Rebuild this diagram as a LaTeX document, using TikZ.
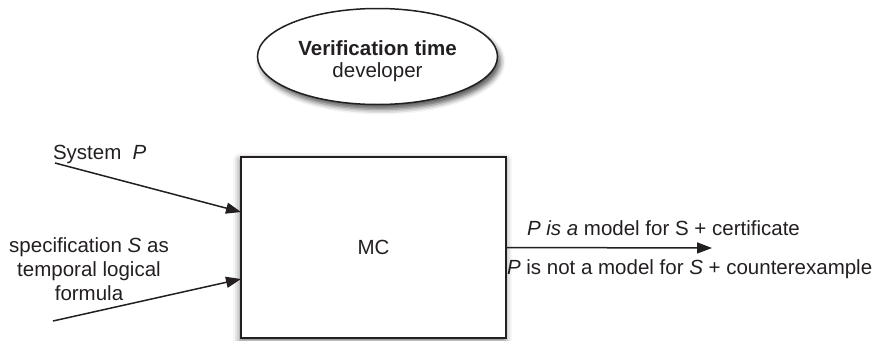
\documentclass[tikz,border=0pt]{standalone}
\usepackage{fontspec}
\setmainfont{Liberation Sans}
\usetikzlibrary{shapes.geometric,arrows.meta,shadows.blur,calc}
\definecolor{ink}{HTML}{231F20}
\tikzset{
  label text/.style={font=\fontsize{20.5pt}{24pt}\selectfont, text=ink, inner sep=0pt, outer sep=0pt},
  flow/.style={draw=ink, line width=1.5pt, -{Triangle[length=15pt,width=11pt]}},
  rolebox/.style={ellipse, draw=ink, fill=white, line width=1.5pt, minimum width=240pt, minimum height=96pt, inner sep=0pt, outer sep=0pt,
    blur shadow={shadow xshift=3pt, shadow yshift=-5pt, shadow blur radius=5pt, shadow opacity=65}},
  checker/.style={rectangle, draw=ink, fill=white, line width=1.8pt, minimum width=265pt, minimum height=181pt, inner sep=0pt, outer sep=0pt,
    blur shadow={shadow xshift=-1pt, shadow yshift=-3pt, shadow blur radius=7pt, shadow opacity=55}},
}
\begin{document}
\begin{tikzpicture}[x=1pt, y=-1pt]
\useasboundingbox (0,0) rectangle (882,340);

% phase of the process and who runs it
\node[rolebox] (phase) at (377.5,56.5) {};
\node[label text, anchor=base, font=\fontsize{20.5pt}{24pt}\selectfont\bfseries] (phasename) at (377.5,55) {Verification time};
\node[label text, anchor=base] (actor) at (377.5,77) {developer};

% model checker
\node[checker] (mc) at (373.5,247.5) {};
\node[label text] (mclabel) at (mc.center) {MC};

% inputs
\node[label text, anchor=base west] (syslabel) at (53,159) {System~~\textit{P}};
\coordinate (sysstart) at (55,163);
\draw[flow] (sysstart) -- ($(mc.north west)!0.304!(mc.south west)$);

% base of a multi-line node sits on its last line
\node[label text, anchor=base, align=center] (speclabel) at (89,300) {specification \textit{S} as\\temporal logical\\formula};
\coordinate (specstart) at (53,321);
\draw[flow] (specstart) -- ($(mc.north west)!0.674!(mc.south west)$);

% outcome
\coordinate (outend) at (712,248);
\draw[flow] (mc.east) -- (outend);
\node[label text, anchor=base west] (yes) at (527,235) {\textit{P is a} model for S + certificate};
\node[label text, anchor=base west] (no) at (507,274) {\textit{P} is not a model for \textit{S} + counterexample};
\end{tikzpicture}
\end{document}
